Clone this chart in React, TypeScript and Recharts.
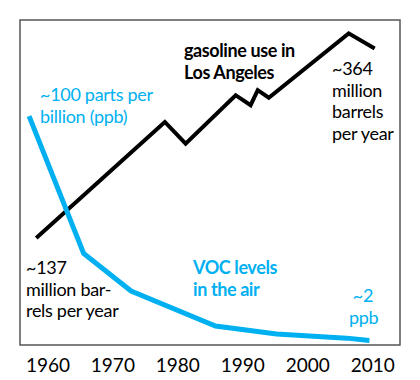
import { LineChart, Line, XAxis, YAxis, ReferenceArea } from 'recharts';

// gasoline use in Los Angeles, million barrels per year
const gasYears = [1958.2, 1978, 1981.2, 1988.9, 1991.2, 1992.3, 1994, 2006.3, 2010.3];
const gasValues = [137, 276, 250, 308, 296, 314, 305, 382, 364];

// VOC levels in the air, ppb
const vocYears = [1957.1, 1965.5, 1972.8, 1985.8, 1995.2, 2006, 2009.5];
const vocValues = [100, 40, 23.6, 8.3, 4.8, 3, 2];

const yearTicks = [1960, 1970, 1980, 1990, 2000, 2010];

const BLUE = '#00b0f0';
const FONT = 'Lato, "Open Sans", sans-serif';

const gasData = gasYears.map((year, i) => ({ year, gas: gasValues[i] }));
const vocData = vocYears.map((year, i) => ({ year, voc: vocValues[i] }));

const note = (left: number, top: number, color: string, bold = false): React.CSSProperties => ({
  position: 'absolute',
  left,
  top,
  color,
  fontFamily: FONT,
  fontSize: 18,
  fontWeight: bold ? 700 : 400,
  letterSpacing: bold ? -0.4 : -0.3,
  lineHeight: '21.5px',
  whiteSpace: 'nowrap',
});

export default function App() {
  return (
    <div style={{ position: 'absolute', left: 0, top: 0, width: 420, height: 380, background: '#fff' }}>
      <LineChart width={420} height={380} margin={{ top: 20, right: 20, bottom: 5, left: 20 }}>
        <XAxis
          dataKey="year"
          type="number"
          domain={[1955.7, 2014.2]}
          ticks={yearTicks}
          allowDuplicatedCategory={false}
          axisLine={false}
          tickLine={false}
          tickMargin={8}
          height={30}
          tick={{ fill: '#000', fontSize: 19, fontFamily: FONT }}
        />
        <YAxis yAxisId="gas" hide type="number" domain={[9, 398]} />
        <YAxis yAxisId="voc" hide type="number" domain={[0, 142]} />
        <ReferenceArea
          yAxisId="voc"
          x1={1955.7}
          x2={2014.2}
          y1={0}
          y2={142}
          fill="none"
          stroke="#555"
          strokeWidth={1.5}
        />
        <Line
          yAxisId="gas"
          data={gasData}
          dataKey="gas"
          type="linear"
          stroke="#000"
          strokeWidth={4}
          dot={false}
          isAnimationActive={false}
        />
        <Line
          yAxisId="voc"
          data={vocData}
          dataKey="voc"
          type="linear"
          stroke={BLUE}
          strokeWidth={5}
          dot={false}
          isAnimationActive={false}
        />
      </LineChart>
      <div style={note(40, 84, BLUE)}>~100 parts per<br />billion (ppb)</div>
      <div style={note(184, 40, '#000', true)}>gasoline use in<br />Los Angeles</div>
      <div style={note(332, 58, '#000')}>~364<br />million<br />barrels<br />per year</div>
      <div style={note(26, 257, '#000')}>~137<br />million bar-<br />rels per year</div>
      <div style={note(193, 257, BLUE, true)}>VOC levels<br />in the air</div>
      <div style={{ ...note(349, 285, BLUE), textAlign: 'center', width: 28 }}>~2<br />ppb</div>
    </div>
  );
}
